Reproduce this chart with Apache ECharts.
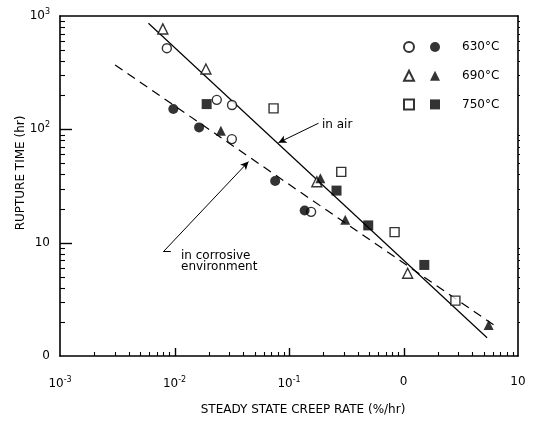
<!DOCTYPE html>
<html><head><meta charset="utf-8">
<script src="https://cdn.jsdelivr.net/npm/echarts@6/dist/echarts.min.js"></script>
<style>html,body{margin:0;padding:0;background:#fff}#c{width:534px;height:421px}</style>
</head><body><div id="c"></div>
<script>
// Data (x: steady state creep rate %/hr, y: rupture time hr)
const open630   = [[0.00857,520],[0.0234,182],[0.0318,164],[0.0317,82],[0.156,18.7]];
const filled630 = [[0.00977,151],[0.0164,104],[0.0757,35],[0.137,19.2]];
const open690   = [[0.00791,769],[0.0188,341],[0.175,34.5],[1.087,5.37]];
const filled690 = [[0.0254,97.4],[0.188,37],[0.310,15.9],[5.54,1.88]];
const open750   = [[0.0733,153],[0.286,42.1],[0.836,12.4],[2.84,3.08]];
const filled750 = [[0.0191,167],[0.260,28.8],[0.492,14.2],[1.52,6.36]];
const airLine       = [[0.00592,864],[5.37,1.45]];
const corrosiveLine = [[0.00303,370],[6.65,1.78]];
const airArrow       = [[0.181,113.2],[0.0809,76.3]];
const corrosiveArrow = [[0.0080,8.33],[0.0443,51.9]];
const corrosiveFoot  = [[0.0080,8.33],[0.00929,8.33]];
const xTickValues = [0.001,0.01,0.1,1,10];
const xTickLabels = ['10^-3','10^-2','10^-1','0','10'];
const yTickValues = [1,10,100,1000];
const yTickLabels = ['0','10','10^2','10^3'];
const legendLabels = ['630°C','690°C','750°C'];

const FONT = 'DejaVu Sans';
const W = 534, H = 421, GL = 60, GR = 16, GT = 16, GB = 65;
const X_MIN = 0.001, X_MAX = 10, Y_MIN = 1, Y_MAX = 1000;
function minors(lo, hi){ const r=[]; for(let d=lo; d<hi-1e-12; d*=10){ for(let k=2;k<=9;k++) r.push(+(d*k).toPrecision(3)); } return r; }
function fmt(values, labels){
  return function(v){
    let best=0, bd=1e9;
    values.forEach((t,i)=>{ const d=Math.abs(Math.log10(v)-Math.log10(t)); if(d<bd){bd=d;best=i;} });
    const s = labels[best];
    if (s.indexOf('^')>=0){ const p=s.split('^'); return '{b|'+p[0]+'}{s|'+p[1]+'}'; }
    return '{b|'+s+'}';
  };
}
const rich = { b:{fontSize:12, fontFamily:FONT, color:'#000'}, s:{fontSize:8, fontFamily:FONT, color:'#000', padding:[0,0,8,0]} };

const xMinor = minors(X_MIN, X_MAX), yMinor = minors(Y_MIN, Y_MAX);
const xMajorInner = xTickValues.slice(1,-1), yMajorInner = yTickValues.slice(1,-1);

// custom series that draws the axis ticks through the coordinate system
function renderTicks(params, api){
  const children = [];
  const b = api.coord([X_MIN*1.0001, Y_MIN*1.0001]);
  const t = api.coord([X_MAX/1.0001, Y_MAX/1.0001]);
  const xl = Math.round(b[0]), yb = Math.round(b[1]), xr = Math.round(t[0]);
  function seg(x1,y1,x2,y2,w){ children.push({type:'line', shape:{x1,y1,x2,y2}, style:{stroke:'#000', lineWidth:w}}); }
  xMajorInner.forEach(v => { const x = Math.round(api.coord([v, Y_MIN*1.0001])[0])+0.5; seg(x, yb, x, yb-8, 1.4); });
  xMinor.forEach(v => { const x = Math.round(api.coord([v, Y_MIN*1.0001])[0])+0.5; seg(x, yb, x, yb-4, 1.1); });
  yMajorInner.forEach(v => { const y = Math.round(api.coord([X_MIN*1.0001, v])[1])+0.5; seg(xl, y, xl+12, y, 1.4); });
  yMinor.forEach(v => { const y = Math.round(api.coord([X_MIN*1.0001, v])[1])+0.5; seg(xl, y, xl+5, y, 1.1); seg(xr, y, xr+2, y, 1); });
  return {type:'group', children};
}

const chart = echarts.init(document.getElementById('c'), null, {renderer:'canvas'});
const openStyle = {color:'#fff', borderColor:'#000', borderWidth:1.4};
const fillStyle = {color:'#000', borderColor:'#000', borderWidth:0};
function sc(name, data, sym, size, style){
  return {type:'scatter', name, data, symbol:sym, symbolSize:size, itemStyle:style, z:5, silent:true};
}
const textGraphics = [
  {type:'text', left:322, top:119, style:{text:'in air', fontFamily:FONT, fontSize:12, fill:'#000'}},
  {type:'text', left:181, top:250, style:{text:'in corrosive\nenvironment', fontFamily:FONT, fontSize:12, lineHeight:11, fill:'#000'}}
];
const frameAxis = {axisLine:{show:true, lineStyle:{color:'#000', width:1.6}}, axisTick:{show:false}, axisLabel:{show:false}, splitLine:{show:false}};
chart.setOption({
  animation:false,
  grid:{left:GL, right:GR, top:GT, bottom:GB, show:false},
  xAxis:[
    {type:'log', logBase:10, min:X_MIN, max:X_MAX, gridIndex:0, position:'bottom',
     name:'STEADY STATE CREEP RATE (%/hr)', nameLocation:'middle', nameGap:48,
     nameTextStyle:{fontFamily:FONT, fontSize:12, color:'#000', padding:[0,0,0,28]},
     axisLine:{show:true, lineStyle:{color:'#000', width:1.6}},
     axisTick:{show:false},
     axisLabel:{show:true, margin:20, formatter:fmt(xTickValues,xTickLabels), rich},
     splitLine:{show:false}},
    Object.assign({type:'log', logBase:10, min:X_MIN, max:X_MAX, gridIndex:0, position:'top'}, frameAxis)
  ],
  yAxis:[
    {type:'log', logBase:10, min:Y_MIN, max:Y_MAX, gridIndex:0, position:'left',
     name:'RUPTURE TIME (hr)', nameLocation:'middle', nameGap:33, nameRotate:90, nameMoveOverlap:false,
     nameTextStyle:{fontFamily:FONT, fontSize:12, color:'#000', padding:[0,0,0,26]},
     axisLine:{show:true, lineStyle:{color:'#000', width:1.6}},
     axisTick:{show:false},
     axisLabel:{show:true, margin:10, formatter:fmt(yTickValues,yTickLabels), rich},
     splitLine:{show:false}},
    Object.assign({type:'log', logBase:10, min:Y_MIN, max:Y_MAX, gridIndex:0, position:'right'}, frameAxis)
  ],
  legend:[
    {data:['630 open','690 open','750 open'], orient:'vertical', left:403, top:41, itemWidth:10, itemHeight:10,
     itemGap:16.7, padding:0, formatter:()=>'', selectedMode:false},
    {data:['630°C','690°C','750°C'], orient:'vertical', left:430, top:41, itemWidth:10, itemHeight:10,
     itemGap:16.7, padding:0, selectedMode:false,
     textStyle:{fontFamily:FONT, fontSize:12, color:'#000', padding:[0,0,0,17]}}
  ],
  series:[
    {type:'custom', name:'ticks', renderItem:renderTicks, data:[[0.1, 10]], silent:true, z:20, clip:false},
    {type:'line', name:'in air', data:airLine, symbol:'none', silent:true, z:2,
     lineStyle:{color:'#000', width:1.2},
     markLine:{silent:true, symbol:['none','arrow'], symbolSize:[6,8], animation:false, label:{show:false},
       lineStyle:{color:'#000', width:1, type:'solid'},
       data:[
         [{coord:airArrow[0]},{coord:airArrow[1]}],
         [{coord:corrosiveArrow[0]},{coord:corrosiveArrow[1]}],
         [{coord:corrosiveFoot[0], symbol:'none'},{coord:corrosiveFoot[1], symbol:'none'}]
       ]}},
    {type:'line', name:'in corrosive environment', data:corrosiveLine, symbol:'none', silent:true, z:2,
     lineStyle:{color:'#000', width:1.2, type:[9,6]}},
    sc('630 open', open630, 'circle', 9, openStyle),
    sc('630°C', filled630, 'circle', 10, fillStyle),
    sc('690 open', open690, 'triangle', 10, openStyle),
    sc('690°C', filled690, 'triangle', 10, fillStyle),
    sc('750 open', open750, 'rect', 9, openStyle),
    sc('750°C', filled750, 'rect', 10, fillStyle)
  ],
  graphic: textGraphics
});
</script></body></html>
